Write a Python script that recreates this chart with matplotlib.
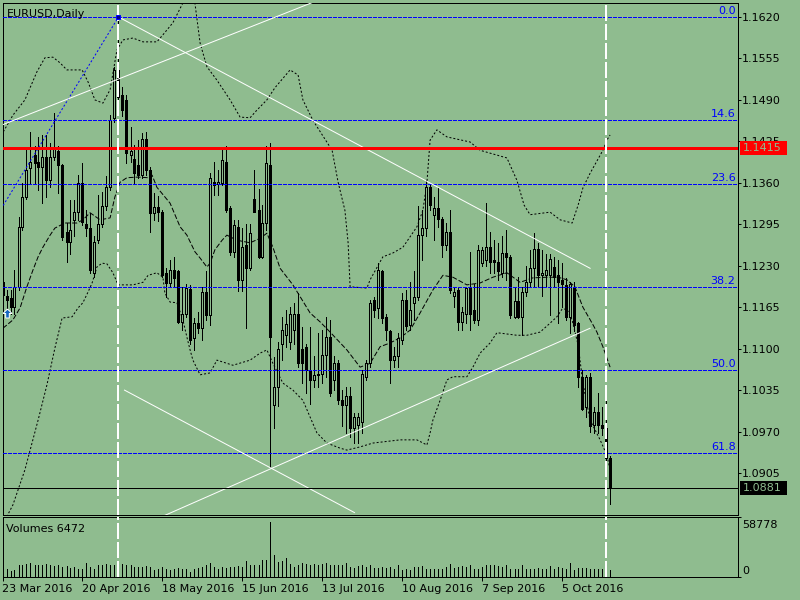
import numpy as np
import pandas as pd
import matplotlib
matplotlib.use("Agg")
import matplotlib.pyplot as plt
import matplotlib.transforms as mtransforms
from matplotlib.patches import Rectangle

plt.rcParams['font.family'] = ['DejaVu Sans']
plt.rcParams['font.size'] = 8
plt.rcParams['lines.scale_dashes'] = False

BG = '#8fbc8f'
PX = 0.72  # one pixel in points (100 dpi)

symbol = 'EURUSD,Daily'
first_day = '2016-03-23'

# daily bars, 23 Mar 2016 .. 21 Oct 2016
opens = [1.1205, 1.1182, 1.1179, 1.1166, 1.1197, 1.1291, 1.1338, 1.1383, 1.1404, 1.1393,
         1.1385, 1.1401, 1.1364, 1.1400, 1.1410, 1.1388, 1.1283, 1.1268, 1.1302, 1.1315,
         1.1359, 1.1296, 1.1289, 1.1218, 1.1270, 1.1296, 1.1323, 1.1354, 1.1462, 1.1537,
         1.1498, 1.1490, 1.1404, 1.1398, 1.1388, 1.1372, 1.1428, 1.1380, 1.1313, 1.1322,
         1.1315, 1.1218, 1.1203, 1.1224, 1.1221, 1.1142, 1.1155, 1.1194, 1.1116, 1.1140,
         1.1132, 1.1189, 1.1153, 1.1362, 1.1358, 1.1360, 1.1393, 1.1320, 1.1252, 1.1291,
         1.1208, 1.1262, 1.1226, 1.1335, 1.1317, 1.1244, 1.1297, 1.1388, 1.1012, 1.1040,
         1.1108, 1.1121, 1.1110, 1.1129, 1.1155, 1.1100, 1.1103, 1.1067, 1.1051, 1.1061,
         1.1061, 1.1090, 1.1119, 1.1051, 1.1077, 1.1020, 1.1012, 1.1025, 1.0975, 1.0980,
         1.0985, 1.1056, 1.1077, 1.1176, 1.1163, 1.1221, 1.1150, 1.1127, 1.1082, 1.1088,
         1.1114, 1.1176, 1.1137, 1.1171, 1.1181, 1.1278, 1.1289, 1.1353, 1.1310, 1.1320,
         1.1304, 1.1263, 1.1283, 1.1182, 1.1192, 1.1142, 1.1155, 1.1197, 1.1161, 1.1145,
         1.1234, 1.1239, 1.1260, 1.1239, 1.1236, 1.1218, 1.1250, 1.1244, 1.1150, 1.1174,
         1.1150, 1.1189, 1.1205, 1.1226, 1.1257, 1.1215, 1.1215, 1.1215, 1.1228, 1.1215,
         1.1207, 1.1200, 1.1150, 1.1197, 1.1140, 1.1055, 1.1009, 1.1056, 1.0980, 1.1001,
         1.0980, 1.0975, 1.0928]
highs = [1.1221, 1.1192, 1.1192, 1.1223, 1.1307, 1.1360, 1.1414, 1.1440, 1.1417, 1.1432,
         1.1435, 1.1435, 1.1422, 1.1469, 1.1417, 1.1390, 1.1297, 1.1333, 1.1333, 1.1372,
         1.1391, 1.1317, 1.1312, 1.1276, 1.1341, 1.1346, 1.1370, 1.1466, 1.1542, 1.1619,
         1.1510, 1.1497, 1.1448, 1.1420, 1.1427, 1.1438, 1.1440, 1.1385, 1.1344, 1.1340,
         1.1317, 1.1226, 1.1239, 1.1244, 1.1224, 1.1197, 1.1202, 1.1200, 1.1148, 1.1158,
         1.1197, 1.1221, 1.1375, 1.1393, 1.1380, 1.1414, 1.1417, 1.1323, 1.1302, 1.1302,
         1.1289, 1.1296, 1.1296, 1.1380, 1.1351, 1.1326, 1.1417, 1.1422, 1.1087, 1.1110,
         1.1150, 1.1161, 1.1165, 1.1171, 1.1187, 1.1134, 1.1108, 1.1134, 1.1088, 1.1124,
         1.1129, 1.1150, 1.1145, 1.1088, 1.1082, 1.1035, 1.1040, 1.1040, 1.0999, 1.0999,
         1.1067, 1.1082, 1.1176, 1.1181, 1.1234, 1.1223, 1.1155, 1.1129, 1.1103, 1.1124,
         1.1187, 1.1192, 1.1205, 1.1221, 1.1323, 1.1317, 1.1364, 1.1357, 1.1338, 1.1354,
         1.1307, 1.1297, 1.1317, 1.1197, 1.1195, 1.1166, 1.1197, 1.1252, 1.1202, 1.1263,
         1.1260, 1.1328, 1.1283, 1.1270, 1.1265, 1.1276, 1.1286, 1.1247, 1.1197, 1.1213,
         1.1197, 1.1229, 1.1255, 1.1281, 1.1265, 1.1255, 1.1249, 1.1249, 1.1244, 1.1239,
         1.1234, 1.1210, 1.1205, 1.1205, 1.1142, 1.1067, 1.1059, 1.1062, 1.1009, 1.1030,
         1.1009, 1.1043, 1.0931]
lows = [1.1176, 1.1161, 1.1155, 1.1155, 1.1192, 1.1286, 1.1335, 1.1359, 1.1359, 1.1349,
        1.1328, 1.1338, 1.1354, 1.1396, 1.1344, 1.1270, 1.1236, 1.1249, 1.1276, 1.1302,
        1.1294, 1.1276, 1.1218, 1.1212, 1.1265, 1.1291, 1.1317, 1.1349, 1.1455, 1.1480,
        1.1465, 1.1391, 1.1392, 1.1360, 1.1368, 1.1368, 1.1373, 1.1283, 1.1302, 1.1300,
        1.1213, 1.1181, 1.1196, 1.1197, 1.1140, 1.1129, 1.1150, 1.1108, 1.1098, 1.1124,
        1.1114, 1.1145, 1.1137, 1.1341, 1.1341, 1.1357, 1.1315, 1.1247, 1.1244, 1.1190,
        1.1190, 1.1132, 1.1223, 1.1315, 1.1242, 1.1242, 1.1286, 1.0915, 1.0975, 1.1010,
        1.1082, 1.1103, 1.1100, 1.1108, 1.1072, 1.1046, 1.1030, 1.1014, 1.1040, 1.1040,
        1.1046, 1.1056, 1.1025, 1.1035, 1.1014, 1.0978, 1.0967, 1.0962, 1.0952, 1.0952,
        1.0967, 1.1051, 1.1072, 1.1150, 1.1148, 1.1140, 1.1114, 1.1046, 1.1072, 1.1072,
        1.1108, 1.1130, 1.1129, 1.1145, 1.1176, 1.1239, 1.1276, 1.1317, 1.1270, 1.1291,
        1.1244, 1.1255, 1.1187, 1.1166, 1.1129, 1.1129, 1.1140, 1.1129, 1.1140, 1.1137,
        1.1229, 1.1229, 1.1218, 1.1218, 1.1208, 1.1213, 1.1208, 1.1148, 1.1148, 1.1148,
        1.1121, 1.1182, 1.1197, 1.1197, 1.1197, 1.1182, 1.1197, 1.1153, 1.1197, 1.1140,
        1.1166, 1.1145, 1.1124, 1.1127, 1.1040, 1.1004, 1.0993, 1.0970, 1.0967, 1.0967,
        1.0965, 1.0925, 1.0857]
closes = [1.1184, 1.1176, 1.1166, 1.1197, 1.1291, 1.1338, 1.1380, 1.1393, 1.1391, 1.1385,
          1.1401, 1.1364, 1.1400, 1.1416, 1.1388, 1.1275, 1.1268, 1.1286, 1.1315, 1.1359,
          1.1299, 1.1289, 1.1223, 1.1268, 1.1296, 1.1323, 1.1354, 1.1459, 1.1537, 1.1495,
          1.1474, 1.1407, 1.1410, 1.1375, 1.1372, 1.1428, 1.1380, 1.1312, 1.1322, 1.1315,
          1.1216, 1.1203, 1.1224, 1.1210, 1.1142, 1.1155, 1.1195, 1.1113, 1.1140, 1.1132,
          1.1189, 1.1153, 1.1367, 1.1357, 1.1362, 1.1396, 1.1317, 1.1252, 1.1294, 1.1208,
          1.1260, 1.1226, 1.1281, 1.1315, 1.1244, 1.1297, 1.1391, 1.1118, 1.1040, 1.1100,
          1.1129, 1.1139, 1.1155, 1.1155, 1.1077, 1.1077, 1.1067, 1.1051, 1.1059, 1.1059,
          1.1090, 1.1119, 1.1030, 1.1077, 1.1020, 1.1012, 1.1025, 1.0975, 1.0993, 1.0993,
          1.1061, 1.1077, 1.1171, 1.1161, 1.1223, 1.1148, 1.1129, 1.1082, 1.1088, 1.1116,
          1.1176, 1.1135, 1.1160, 1.1181, 1.1278, 1.1289, 1.1353, 1.1325, 1.1320, 1.1304,
          1.1263, 1.1283, 1.1192, 1.1189, 1.1142, 1.1158, 1.1195, 1.1155, 1.1145, 1.1255,
          1.1255, 1.1260, 1.1236, 1.1236, 1.1221, 1.1250, 1.1244, 1.1153, 1.1174, 1.1150,
          1.1189, 1.1205, 1.1226, 1.1257, 1.1215, 1.1218, 1.1223, 1.1241, 1.1213, 1.1205,
          1.1202, 1.1150, 1.1202, 1.1137, 1.1055, 1.1006, 1.1056, 1.0978, 1.1001, 1.0980,
          1.0975, 1.0928, 1.0881]
volumes = [9300, 7600, 5000, 6000, 11600, 11600, 12600, 13600, 11000, 11600,
           11000, 12600, 11000, 10300, 11000, 9300, 10300, 8300, 9300, 7600,
           7600, 13600, 9300, 7600, 11000, 11600, 12600, 11600, 11000, 14900,
           12600, 11000, 11000, 9300, 9300, 9300, 10300, 9300, 6000, 7600,
           9300, 7600, 6000, 7000, 8300, 7600, 7000, 4300, 7000, 8300,
           9300, 11000, 13300, 9300, 7600, 9300, 8300, 9300, 9300, 10300,
           9300, 14900, 11000, 11600, 11000, 15900, 15900, 53800, 20900, 14200,
           14900, 18600, 12600, 9300, 11600, 13600, 12600, 11000, 12600, 11000,
           12600, 13600, 11600, 11600, 11000, 11000, 13600, 9300, 8300, 10300,
           11000, 9300, 11600, 8300, 8300, 9300, 8300, 9300, 7600, 11000,
           6000, 7000, 6000, 9300, 9300, 10300, 7600, 7600, 7600, 7600,
           7600, 9300, 12600, 8300, 9300, 10300, 9300, 11600, 7000, 7600,
           9300, 11600, 11600, 11600, 10300, 9300, 11600, 7000, 7000, 7600,
           11600, 7600, 7600, 7600, 8300, 7600, 7600, 10300, 7600, 9300,
           8300, 7000, 13600, 6000, 8300, 8300, 8300, 7600, 7000, 7000,
           7600, 9300, 6472]
volume_max = 58778

# bollinger bands and middle line (bar index, price)
upper_bar = [0.2, 2.6, 5.6, 8.6, 10.6, 12.6, 14.4, 16.1, 19.9, 21.4, 23.1, 25.1, 26.9, 28.6,
             30.1, 32.6, 35.1, 38.6, 40.1, 42.6, 45.1, 46.6, 48.1, 49.4, 51.1, 53.6, 56.9,
             59.4, 61.9, 63.6, 66.1, 68.1, 71.9, 73.9, 75.1, 77.6, 82.4, 83.9, 85.6, 86.4,
             86.9, 91.1, 91.9, 95.1, 97.6, 100.1, 103.6, 105.1, 106.1, 106.9, 108.6, 111.1,
             116.9, 119.4, 126.1, 128.6, 130.4, 131.9, 136.9, 139.4, 142.4, 143.9, 145.1,
             146.9, 150.1, 151.1, 151.9]
upper_val = [1.1440, 1.1466, 1.1490, 1.1534, 1.1556, 1.1557, 1.1548, 1.1537, 1.1537, 1.1518,
             1.1490, 1.1485, 1.1506, 1.1568, 1.1584, 1.1587, 1.1581, 1.1581, 1.1592, 1.1611,
             1.1642, 1.1660, 1.1642, 1.1579, 1.1542, 1.1521, 1.1490, 1.1463, 1.1462, 1.1474,
             1.1490, 1.1509, 1.1537, 1.1529, 1.1490, 1.1458, 1.1411, 1.1361, 1.1317, 1.1266,
             1.1197, 1.1195, 1.1208, 1.1244, 1.1250, 1.1259, 1.1291, 1.1317, 1.1360, 1.1427,
             1.1443, 1.1432, 1.1424, 1.1411, 1.1399, 1.1364, 1.1325, 1.1310, 1.1314, 1.1302,
             1.1297, 1.1325, 1.1352, 1.1375, 1.1411, 1.1427, 1.1435]
lower_bar = [0.6, 2.6, 5.6, 8.9, 11.1, 13.1, 14.9, 17.4, 18.9, 20.1, 21.4, 22.4, 23.6, 24.9,
             26.1, 27.6, 28.9, 32.6, 35.1, 36.4, 38.6, 40.1, 40.6, 41.9, 43.6, 45.1, 46.1,
             46.9, 47.6, 49.4, 51.9, 53.6, 57.6, 61.9, 64.4, 66.1, 67.6, 70.1, 72.6, 75.1,
             78.6, 81.1, 84.4, 86.1, 89.4, 92.6, 99.4, 103.6, 106.1, 106.9, 107.6, 109.4,
             111.1, 112.6, 116.1, 117.6, 119.4, 121.9, 123.6, 128.6, 131.1, 134.4, 136.9,
             138.6, 139.9, 141.1, 142.4, 143.9, 145.1, 146.9, 149.4, 151.1, 151.9]
lower_val = [1.0831, 1.0855, 1.0910, 1.0988, 1.1043, 1.1101, 1.1148, 1.1150, 1.1164, 1.1172,
             1.1189, 1.1203, 1.1228, 1.1234, 1.1233, 1.1219, 1.1200, 1.1200, 1.1204, 1.1215,
             1.1219, 1.1212, 1.1187, 1.1173, 1.1172, 1.1145, 1.1118, 1.1098, 1.1082, 1.1059,
             1.1062, 1.1082, 1.1074, 1.1082, 1.1093, 1.1098, 1.1077, 1.1046, 1.1035, 1.1019,
             1.0968, 1.0952, 1.0944, 1.0941, 1.0946, 1.0952, 1.0957, 1.0957, 1.0949, 1.0968,
             1.0988, 1.1019, 1.1051, 1.1056, 1.1056, 1.1071, 1.1093, 1.1109, 1.1125, 1.1121,
             1.1121, 1.1126, 1.1140, 1.1150, 1.1162, 1.1162, 1.1145, 1.1106, 1.1046, 1.0988,
             1.0957, 1.0933, 1.0910]
mid_bar = [0.1, 2.6, 4.4, 6.1, 7.6, 8.9, 10.1, 11.9, 13.1, 15.6, 18.6, 20.1, 21.9, 24.4,
           26.9, 28.1, 29.4, 31.1, 33.9, 36.4, 37.4, 38.6, 41.9, 44.4, 46.1, 48.1, 49.4,
           51.1, 51.9, 53.1, 54.9, 56.1, 58.6, 61.9, 64.4, 66.1, 67.6, 69.4, 72.6, 76.9,
           79.4, 81.9, 86.1, 89.4, 91.9, 94.4, 96.9, 99.4, 101.9, 104.4, 107.6, 110.1,
           112.6, 116.1, 119.4, 122.6, 126.1, 129.4, 132.6, 136.1, 138.9, 141.1, 143.1,
           145.1, 147.4, 148.6, 150.1, 151.9]
mid_val = [1.1132, 1.1145, 1.1164, 1.1197, 1.1223, 1.1244, 1.1259, 1.1278, 1.1289, 1.1297,
           1.1297, 1.1302, 1.1313, 1.1302, 1.1305, 1.1338, 1.1361, 1.1368, 1.1369, 1.1368,
           1.1372, 1.1353, 1.1328, 1.1291, 1.1278, 1.1252, 1.1242, 1.1228, 1.1234, 1.1255,
           1.1270, 1.1278, 1.1270, 1.1266, 1.1273, 1.1281, 1.1259, 1.1226, 1.1200, 1.1156,
           1.1142, 1.1126, 1.1098, 1.1071, 1.1077, 1.1103, 1.1109, 1.1117, 1.1129, 1.1156,
           1.1192, 1.1215, 1.1212, 1.1200, 1.1203, 1.1212, 1.1219, 1.1204, 1.1211, 1.1212,
           1.1212, 1.1208, 1.1197, 1.1165, 1.1140, 1.1126, 1.1103, 1.1071]

# fibonacci retracement (from the Dec 2015 low to the 3 May 2016 high)
fib_start_bar, fib_low = -79, 1.0513
fib_end_bar, fib_high = 29, 1.1620
fib_levels = [0.0, 14.6, 23.6, 38.2, 50.0, 61.8, 100.0]

# drawn objects
trend_lines = [((0, 1.1451), (78, 1.1644)),
               ((29, 1.1620), (146.9, 1.1226)),
               ((30.5, 1.1035), (88, 1.0843)),
               ((40, 1.0837), (146.9, 1.1132))]
vline_bars = [29, 151]
red_level = 1.1415
bid = closes[-1]
arrow_bar, arrow_price = 1, 1.1156

price_ticks = [1.1620, 1.1555, 1.1490, 1.1425, 1.1360, 1.1295, 1.1230, 1.1165,
               1.1100, 1.1035, 1.0970, 1.0905]
date_labels = ['23 Mar 2016', '20 Apr 2016', '18 May 2016', '15 Jun 2016',
               '13 Jul 2016', '10 Aug 2016', '7 Sep 2016', '5 Oct 2016']

n = len(closes)
x = np.arange(n)
o, h, l, c = map(np.array, (opens, highs, lows, closes))
dates = pd.bdate_range(first_day, periods=n)
date_pos = [dates.get_loc(pd.Timestamp(s)) for s in date_labels]

W, H = 800, 600


def box(x0, y0, x1, y1):
    return [x0 / W, 1 - y1 / H, (x1 - x0) / W, (y1 - y0) / H]


fig = plt.figure(figsize=(8, 6), dpi=100, facecolor=BG)
ax = fig.add_axes(box(2.5, 2.5, 737.5, 514.5), facecolor=BG)
axv = fig.add_axes(box(2.5, 516.5, 737.5, 576.5), facecolor=BG, sharex=ax)

ax.set_xlim(0, 183.75)
ax.set_ylim(1.08400, 1.16427)
axv.set_ylim(0, volume_max)

for a in (ax, axv):
    for s in a.spines.values():
        s.set_linewidth(PX)
        s.set_color('k')
        s.set_antialiased(False)

# bands
ax.plot(upper_bar, upper_val, color='k', lw=PX, ls=(0, (2 * PX, 2 * PX)), zorder=2)
ax.plot(lower_bar, lower_val, color='k', lw=PX, ls=(0, (2 * PX, 2 * PX)), zorder=2)
ax.plot(mid_bar, mid_val, color='k', lw=PX, ls=(0, (5 * PX, 2 * PX)), zorder=2)

# candles
ax.vlines(x, l, h, color='k', lw=PX, zorder=3, antialiased=False)
up = c >= o
body_lo = np.minimum(o, c)
body_h = np.maximum(np.abs(c - o), 0.00003)
ax.bar(x, body_h, bottom=body_lo, width=0.5, color=np.where(up, BG, 'k'),
       edgecolor='k', linewidth=PX, zorder=4, antialiased=False)

# fibonacci
span = fib_high - fib_low
ymin, ymax = ax.get_ylim()
for lev in fib_levels:
    v = fib_high - lev / 100 * span
    if not ymin < v < ymax:
        continue
    ax.axhline(v, color='#0000ff', lw=PX, ls=(0, (3 * PX, 2 * PX)), zorder=5,
               antialiased=False)
    ax.annotate(f'{lev:.1f}', xy=(1, v), xycoords=ax.get_yaxis_transform(),
                xytext=(-2 * PX, 3 * PX), textcoords='offset points',
                ha='right', va='baseline', color='#0000ff')
ax.plot([fib_start_bar, fib_end_bar], [fib_low, fib_high], color='#0000ff',
        lw=PX, ls=(0, (2 * PX, 2 * PX)), zorder=5)
ax.plot(fib_end_bar, fib_high, marker='s', ms=4 * PX, mfc='#000080',
        mec='#0000ff', mew=PX, zorder=7)

# trend lines
for (x0, y0), (x1, y1) in trend_lines:
    ax.plot([x0, x1], [y0, y1], color='white', lw=PX, zorder=5)

ax.axhline(red_level, color='#ff0000', lw=3 * PX, zorder=6, antialiased=False)
ax.axhline(bid, color='k', lw=PX, zorder=6, antialiased=False)

for b in vline_bars:
    for a in (ax, axv):
        a.axvline(b, color='white', lw=1.5 * PX, ls=(0, (16 * PX, 4 * PX)), zorder=6,
                  antialiased=False)

arrow = [(0, 1), (-1, 0), (-0.4, 0), (-0.4, -1), (0.4, -1), (0.4, 0), (1, 0), (0, 1)]
ax.plot(arrow_bar, arrow_price, marker=arrow, ms=9 * PX, mfc='#1565c0',
        mec='white', mew=PX, zorder=7)

# volumes
axv.vlines(x, 0, volumes, color='k', lw=PX, antialiased=False)

# axes ticks
ax.yaxis.tick_right()
ax.set_yticks(price_ticks)
ax.set_yticklabels([f'{v:.4f}' for v in price_ticks])
ax.tick_params(axis='y', direction='out', length=3 * PX, width=PX, pad=1.5 * PX)
ax.tick_params(axis='x', bottom=False, labelbottom=False)

axv.yaxis.tick_right()
axv.set_yticks([0, volume_max])
axv.set_yticklabels([])
axv.tick_params(axis='y', direction='out', length=3 * PX, width=PX)
axv.set_xticks(date_pos)
axv.set_xticklabels([])
axv.tick_params(axis='x', direction='out', length=4 * PX, width=PX)
for p, lab in zip(date_pos, date_labels):
    axv.annotate(lab, xy=(p, 0), xycoords=axv.get_xaxis_transform(),
                 xytext=(-0.5 * PX, -15.2 * PX), textcoords='offset points',
                 ha='left', va='baseline', annotation_clip=False)

# texts
fig.text(7 / W, 1 - 16.7 / H, symbol, ha='left', va='baseline')
fig.text(6 / W, 1 - 531.5 / H, f'Volumes {volumes[-1]}', ha='left', va='baseline')
fig.text(742.5 / W, 1 - 528 / H, f'{volume_max}', ha='left', va='baseline')
fig.text(742.5 / W, 1 - 574 / H, '0', ha='left', va='baseline')

# price labels on the axis
trans = mtransforms.blended_transform_factory(fig.transFigure, ax.transData)
ppx = (ymax - ymin) / 512.0
for level, col in ((red_level, '#ff0000'), (bid, '#000000')):
    fig.add_artist(Rectangle((740 / W, level - 7 * ppx), 47 / W, 14 * ppx,
                             transform=trans, facecolor=col, edgecolor='none'))
    fig.text(742.5 / W, level, f'{level:.4f}', transform=trans, color=BG,
             ha='left', va='center')

fig.savefig('out.png', dpi=100, facecolor=BG)
